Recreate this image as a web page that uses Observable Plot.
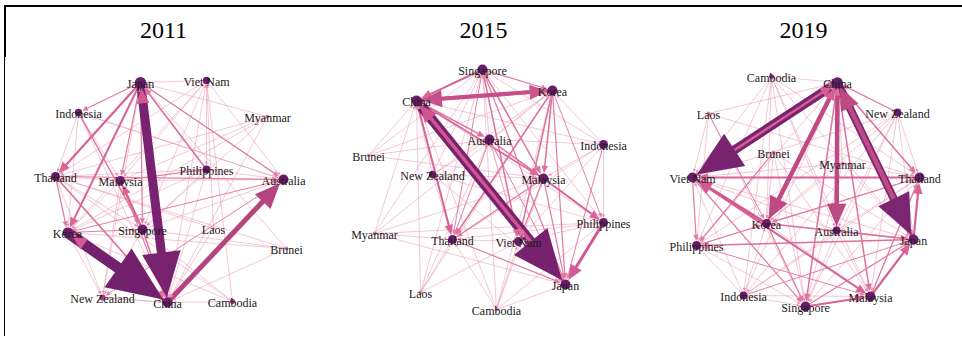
<!DOCTYPE html>
<html><head><meta charset="utf-8">
<script src="https://cdn.jsdelivr.net/npm/d3@7"></script>
<script src="https://cdn.jsdelivr.net/npm/@observablehq/plot@0.6"></script>
<style>
body{margin:0;background:#fff;}
#wrap{position:relative;width:962px;height:337px;overflow:hidden;}
.ln{position:absolute;background:#000;}
</style></head>
<body>
<div id="wrap">
  <div id="chart"></div>
  <div class="ln" style="left:4px;top:5px;width:958px;height:2px"></div>
  <div class="ln" style="left:4px;top:5px;width:2px;height:52px"></div>
  <div class="ln" style="left:4px;top:57px;width:1px;height:279px"></div>
</div>
<script>
const years = [2011, 2015, 2019];
const countries = ["China","Japan","Korea","Australia","New Zealand","Singapore","Malaysia","Thailand","Indonesia","Philippines","Viet Nam","Brunei","Cambodia","Laos","Myanmar"];

// network layout coordinates (per panel)
const layoutX2011 = [167,140,67,283,102,142,120,55,78,206,206,286,232,213,267];
const layoutY2011 = [302,82,232,179,297,229,180,176,112,169,80,248,301,228,116];
const layoutX2015 = [96,245,232,169,112,162,223,132,283,283,198,48,176,100,54];
const layoutY2015 = [100,284,90,139,174,69,178,239,144,222,241,155,309,292,233];
const layoutX2019 = [197,273,126,196,257,165,230,279,103,56,52,133,131,68,202];
const layoutY2019 = [82,239,223,230,112,306,296,177,295,245,177,152,76,113,163];

// node strength (0-10)
const strength2011 = [9,10,9,9,5.5,9,8,8,6.5,7,6.5,3.5,4.5,2.5,3.5];
const strength2015 = [9,9,9,9,6.5,9,9,8,8,8,8,3,3.5,3.5,3.5];
const strength2019 = [9.5,9,8,7,7,9,9,9,7,8,9,3.5,4.5,3.5,3.5];

// directed flows [from, to, intensity]
const flows2011 = [
 ["Korea","China",11],["Japan","China",9],["China","Australia",5],["China","Japan",3],["China","Korea",3],
 ["Japan","Thailand",2.2],["Japan","Korea",2],["Philippines","Japan",1.6],["Singapore","Malaysia",2],
 ["Thailand","China",1.6],["Singapore","China",1.5],["Indonesia","Singapore",1.4],["Japan","Indonesia",1.2],
 ["Japan","Malaysia",1.2],["Japan","Singapore",1.2],["Thailand","Australia",1.2],["Malaysia","Philippines",1.2],
 ["Korea","Singapore",1],["Korea","Australia",1],["Japan","Australia",1.2],["Thailand","Korea",1.2],
 ["Malaysia","China",1.2],["Australia","New Zealand",1],
 ["Viet Nam","Japan",0.6],["Viet Nam","Thailand",0.6],["Viet Nam","Malaysia",0.6],["Viet Nam","Singapore",0.6],
 ["China","Viet Nam",0.6],["Korea","Viet Nam",0.6],["Viet Nam","Australia",0.6],["Viet Nam","Philippines",0.6],
 ["Indonesia","Thailand",0.6],["Indonesia","Korea",0.6],["Indonesia","Malaysia",0.6],["Indonesia","China",0.6],["Indonesia","Australia",0.6],
 ["Myanmar","Thailand",0.6],["Myanmar","Japan",0.6],["Myanmar","Malaysia",0.6],["Myanmar","China",0.6],["Myanmar","Korea",0.6],["Myanmar","Singapore",0.6],
 ["Thailand","Malaysia",0.6],["Thailand","Singapore",0.6],["Thailand","New Zealand",0.6],["Philippines","Thailand",0.6],
 ["Malaysia","Korea",0.6],["Malaysia","Australia",0.6],["Malaysia","New Zealand",0.6],
 ["Philippines","China",0.6],["Philippines","Korea",0.6],["Philippines","Singapore",0.6],
 ["Korea","New Zealand",0.6],["Brunei","Korea",0.6],["Singapore","Australia",0.6],["Singapore","New Zealand",0.6],
 ["New Zealand","China",0.6],["China","New Zealand",0.6],["New Zealand","Japan",0.6],
 ["Cambodia","China",0.6],["Cambodia","Korea",0.6],["Cambodia","Singapore",0.6],["Cambodia","Thailand",0.6],["Cambodia","Viet Nam",0.6],
 ["Brunei","China",0.6],["Brunei","Japan",0.6],["Brunei","Singapore",0.6],["Brunei","Thailand",0.6],
 ["Laos","China",0.6],["Laos","Thailand",0.6],["Laos","Viet Nam",0.6],
 ["Australia","Philippines",0.6],["Australia","Indonesia",0.6],["Australia","Japan",0.6]
];
const flows2015 = [
 ["China","Japan",10],["Japan","China",3.5],["Korea","China",4],["China","Korea",3.5],
 ["Singapore","China",2],["China","Thailand",2],["China","Malaysia",1.8],["China","Australia",1.5],
 ["Philippines","Japan",3],["Malaysia","Philippines",2],["Australia","Malaysia",1.5],["Singapore","Malaysia",1.5],
 ["Singapore","Viet Nam",1.5],["Singapore","Japan",1.2],["Korea","Malaysia",1.5],["Korea","Viet Nam",1.5],
 ["Korea","Thailand",1.5],["Korea","Japan",1.2],["Korea","Philippines",1],["Thailand","Japan",1.2],
 ["Malaysia","Japan",1.2],["Malaysia","Viet Nam",1.2],["Malaysia","Thailand",1.2],["Australia","Thailand",1],
 ["Australia","Japan",1],["Indonesia","Japan",1],["Singapore","Korea",1.2],["Singapore","Thailand",1],
 ["Brunei","China",0.6],["Brunei","Australia",0.6],["Brunei","Malaysia",0.6],["Brunei","Korea",0.6],["Brunei","Singapore",0.6],
 ["Myanmar","China",0.6],["Myanmar","Korea",0.6],["Myanmar","Japan",0.6],["Myanmar","Malaysia",0.6],["Myanmar","Thailand",0.6],["Myanmar","Singapore",0.6],["Myanmar","Philippines",0.6],
 ["Laos","China",0.6],["Laos","Thailand",0.6],["Laos","Viet Nam",0.6],["Laos","Singapore",0.6],["Laos","Korea",0.6],["Laos","Australia",0.6],
 ["Cambodia","Japan",0.6],["Cambodia","Thailand",0.6],["Cambodia","China",0.6],["Cambodia","Viet Nam",0.6],["Cambodia","Singapore",0.6],["Cambodia","Korea",0.6],["Cambodia","Malaysia",0.6],["Cambodia","Philippines",0.6],
 ["Indonesia","Korea",0.6],["Indonesia","China",0.6],["Indonesia","Singapore",0.6],["Indonesia","Malaysia",0.6],["Indonesia","Australia",0.6],["Indonesia","Philippines",0.6],["Indonesia","Thailand",0.6],["Indonesia","Viet Nam",0.6],
 ["New Zealand","China",0.6],["New Zealand","Australia",0.6],["New Zealand","Korea",0.6],["New Zealand","Japan",0.6],["New Zealand","Malaysia",0.6],["New Zealand","Singapore",0.6],["New Zealand","Thailand",0.6],["New Zealand","Philippines",0.6],
 ["Philippines","Singapore",0.6],["Philippines","China",0.6],["Philippines","Thailand",0.6],["Philippines","Viet Nam",0.6],
 ["Viet Nam","Japan",0.6],["Viet Nam","Australia",0.6],["Viet Nam","Thailand",0.6],
 ["Australia","Korea",0.6],["Australia","Singapore",0.6],["Australia","Philippines",0.6],["Australia","Viet Nam",0.6]
];
const flows2019 = [
 ["China","Viet Nam",9],["Viet Nam","China",2.5],["China","Japan",8],["Japan","China",4.5],
 ["China","Korea",4.5],["Korea","China",2.5],["China","Australia",4.5],["Australia","China",1.5],
 ["Korea","Viet Nam",3],["Viet Nam","Malaysia",2],["Thailand","Viet Nam",2],["Japan","Thailand",2.2],
 ["Malaysia","Japan",2.2],["Singapore","Malaysia",2],["Japan","Philippines",1.5],["Korea","Japan",1.5],
 ["Australia","Japan",1.2],["China","Thailand",1.5],["New Zealand","China",1.2],["China","Malaysia",1.5],
 ["China","Singapore",1.5],["Korea","Singapore",1.2],["Philippines","Korea",1.2],["Viet Nam","Singapore",1.2],
 ["Viet Nam","Philippines",1.2],["Thailand","Korea",1.2],["Malaysia","Thailand",1.2],["Singapore","Japan",1.2],
 ["Indonesia","Japan",1],["Philippines","Malaysia",1],["Brunei","Philippines",1.2],["Laos","Korea",1],
 ["Cambodia","China",0.6],["Cambodia","Viet Nam",0.6],["Cambodia","Philippines",0.6],["Cambodia","Korea",0.6],["Cambodia","Singapore",0.6],["Cambodia","Australia",0.6],["Cambodia","Thailand",0.6],["Cambodia","Malaysia",0.6],["Cambodia","Indonesia",0.6],["Cambodia","Japan",0.6],
 ["Laos","China",0.6],["Laos","Viet Nam",0.6],["Laos","Thailand",0.6],["Laos","Philippines",0.6],["Laos","Singapore",0.6],
 ["New Zealand","Thailand",0.6],["New Zealand","Japan",0.6],["New Zealand","Korea",0.6],["New Zealand","Malaysia",0.6],["New Zealand","Singapore",0.6],["New Zealand","Viet Nam",0.6],["New Zealand","Philippines",0.6],["New Zealand","Indonesia",0.6],["New Zealand","Australia",0.6],
 ["Brunei","Japan",0.6],["Brunei","Singapore",0.6],["Brunei","Malaysia",0.6],["Brunei","Korea",0.6],
 ["Myanmar","China",0.6],["Myanmar","Japan",0.6],["Myanmar","Singapore",0.6],["Myanmar","Thailand",0.6],["Myanmar","Viet Nam",0.6],["Myanmar","Korea",0.6],
 ["Indonesia","China",0.6],["Indonesia","Singapore",0.6],["Indonesia","Malaysia",0.6],["Indonesia","Korea",0.6],["Indonesia","Viet Nam",0.6],["Indonesia","Philippines",0.6],["Indonesia","Thailand",0.6],["Indonesia","Australia",0.6],
 ["Philippines","Singapore",0.6],["Philippines","China",0.6],["Philippines","Thailand",0.6],
 ["Australia","Korea",0.6],["Australia","Singapore",0.6],["Australia","Malaysia",0.6],["Australia","Thailand",0.6],["Australia","Viet Nam",0.6],
 ["Thailand","Singapore",0.6],["Thailand","Malaysia",0.6],["Malaysia","Korea",0.6],["Viet Nam","Japan",0.6]
];
// reverse flows drawn over the heavy shaft they share
const overlaid = ["2015|Japan|China","2019|Viet Nam|China","2019|Japan|China"];

const layouts = {2011:[layoutX2011,layoutY2011,strength2011],2015:[layoutX2015,layoutY2015,strength2015],2019:[layoutX2019,layoutY2019,strength2019]};
const flows = {2011:flows2011,2015:flows2015,2019:flows2019};

const radius = d3.scaleLinear([0,10],[0,5.6]);
const nodes = [];
for (const yr of years) {
  const [X,Y,S] = layouts[yr];
  countries.forEach((c,i) => nodes.push({year:yr, name:c, x:X[i], y:Y[i], s:S[i], r:radius(S[i])}));
}
const nodeOf = new Map(nodes.map(d => [d.year+"|"+d.name, d]));

const edges = [];
for (const yr of years) {
  for (const [s,t,w] of flows[yr]) {
    const a = nodeOf.get(yr+"|"+s), b = nodeOf.get(yr+"|"+t);
    const dx = b.x-a.x, dy = b.y-a.y, L = Math.hypot(dx,dy);
    const ux = dx/L, uy = dy/L;
    const head = Math.max(3.5, 5*w);
    const tx = b.x - ux*(b.r+0.3), ty = b.y - uy*(b.r+0.3);
    const bx = tx - ux*(head-0.8), by = ty - uy*(head-0.8);
    edges.push({year:yr, w, sx:a.x, sy:a.y, bx, by, tx, ty, head,
      angle: Math.atan2(ux,-uy)*180/Math.PI, over: overlaid.includes(yr+"|"+s+"|"+t)});
  }
}
edges.sort((a,b) => a.w-b.w);

const triangle = {draw(ctx, l) { const h = l*0.43; ctx.moveTo(0,0); ctx.lineTo(-h,l); ctx.lineTo(h,l); ctx.closePath(); }};
const nodeFill = d => d.s >= 6 ? "#6a1c6a" : d.s >= 4.5 ? "#a0407f" : "#e27ea3";

const chart = Plot.plot({
  width: 962, height: 337,
  marginLeft: 0, marginRight: 2, marginTop: 0, marginBottom: 0,
  fx: {domain: years, padding: 0, axis: null},
  x: {domain:[0,320], range:[0,320], axis:null},
  y: {domain:[0,337], range:[0,337], axis:null},
  r: {type:"identity"},
  length: {type:"identity"},
  color: {type:"linear", domain:[0.6,1.2,2,3.5,5,8,12], range:["#e890b0","#e07aa0","#d96396","#cf558e","#b5447f","#7c2571","#701e6c"]},
  style: {background:"transparent", overflow:"visible"},
  marks: [
    Plot.link(edges, {fx:"year", x1:"sx", y1:"sy", x2:"bx", y2:"by", stroke:"w", strokeWidth:"w", strokeOpacity: d => d.w < 1 ? 0.85 : 1}),
    Plot.link(edges.filter(d => d.over), {fx:"year", x1:"sx", y1:"sy", x2:"bx", y2:"by", stroke:"w", strokeWidth:"w"}),
    Plot.vector(edges, {fx:"year", x:"tx", y:"ty", rotate:"angle", length:"head", anchor:"start", shape: triangle, fill:"w", stroke:"none", strokeWidth:0}),
    Plot.dot(nodes, {fx:"year", x:"x", y:"y", r:"r", fill: nodeFill, stroke:"none"}),
    Plot.text(nodes, {fx:"year", x:"x", y:"y", dy:2, text:"name", fontFamily:"Liberation Serif", fontSize:12, fill:"#1a1a1a"}),
    Plot.text(years, {fx: d => d, text: d => String(d), frameAnchor:"top", lineAnchor:"middle", dy:30, dx:3, fontFamily:"Liberation Serif", fontSize:24, fill:"#000"})
  ]
});
document.getElementById("chart").appendChild(chart);
</script>
</body></html>
